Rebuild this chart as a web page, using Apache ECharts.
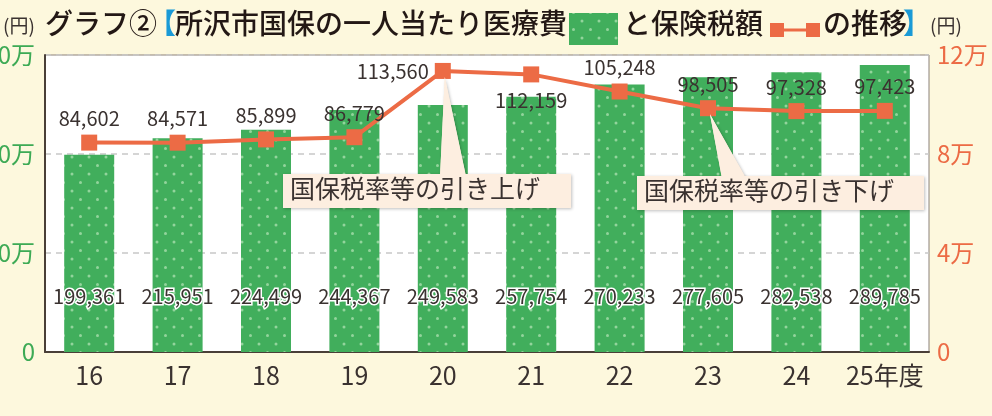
<!DOCTYPE html>
<html lang="ja">
<head>
    <meta charset="UTF-8">
    <title>所沢市国保の一人当たり医療費と保険税額の推移</title>
    <script src="https://cdn.jsdelivr.net/npm/echarts@6/dist/echarts.min.js"></script>
    <style>
        html, body { margin: 0; padding: 0; background: #fdf8dd; }
        #chart { width: 992px; height: 416px; }
    </style>
</head>
<body>
<div id="chart"></div>
<script type="text/javascript">
    // 年度
    var years = ['16', '17', '18', '19', '20', '21', '22', '23', '24', '25年度'];
    // 一人当たり医療費（円）
    var iryouhi = [199361, 215951, 224499, 244367, 249583, 257754, 270233, 277605, 282538, 289785];
    // 一人当たり保険税額（円）
    var zeigaku = [84602, 84571, 85899, 86779, 113560, 112159, 105248, 98505, 97328, 97423];
    // 目盛
    var leftTicks = [0, 100000, 200000, 300000];
    var rightTicks = [0, 40000, 80000, 120000];

    var FONT = '"Noto Sans CJK JP", "Noto Sans", sans-serif';
    var TXT = '#3a3230';
    var GREEN = '#41ae5c';
    var ORANGE = '#ec6b45';

    // 水玉模様
    var dots = document.createElement('canvas');
    dots.width = 17;
    dots.height = 17;
    var ctx = dots.getContext('2d');
    ctx.fillStyle = GREEN;
    ctx.fillRect(0, 0, 17, 17);
    ctx.fillStyle = '#93d49c';
    [[4, 4], [12.5, 12.5]].forEach(function (p) {
        ctx.beginPath();
        ctx.arc(p[0], p[1], 1.5, 0, Math.PI * 2);
        ctx.fill();
    });
    var dotFill = {image: dots, repeat: 'repeat'};

    function man(v) {
        return v === 0 ? '0' : (v / 10000) + '万';
    }
    function comma(v) {
        return v.toLocaleString('en-US');
    }

    // 折れ線ラベルの位置
    var linePos = ['top', 'top', 'top', 'top', 'left', 'bottom', 'top', 'top', 'top', 'top'];
    var lineData = zeigaku.map(function (v, i) {
        return {value: v, label: {position: linePos[i], distance: linePos[i] === 'bottom' ? 8 : 6}};
    });

    var chart = echarts.init(document.getElementById('chart'));
    var titleY = 30;
    var option = {
        backgroundColor: '#fdf8dd',
        animation: false,
        textStyle: {fontFamily: FONT},
        grid: {
            left: 45, right: 63, top: 55, bottom: 64,
            containLabel: false, outerBoundsMode: 'none',
            show: true, backgroundColor: '#fff', borderColor: '#8a8078', borderWidth: 1
        },
        xAxis: {
            type: 'category',
            data: years,
            axisLine: {lineStyle: {color: '#4a3f38', width: 2}},
            axisTick: {show: false},
            axisLabel: {fontSize: 25, color: TXT, margin: 11, interval: 0, fontFamily: FONT}
        },
        yAxis: [{
            type: 'value',
            min: leftTicks[0], max: leftTicks[3], interval: leftTicks[1],
            axisLine: {show: true, lineStyle: {color: '#4a3f38', width: 2}},
            axisTick: {show: false},
            axisLabel: {fontSize: 24, color: '#3daa55', margin: 10, formatter: man, fontFamily: FONT},
            splitLine: {lineStyle: {color: '#c8c8c8', type: [6, 5], width: 1.5}}
        }, {
            type: 'value',
            min: rightTicks[0], max: rightTicks[3], interval: rightTicks[1],
            axisLine: {show: false},
            axisTick: {show: false},
            axisLabel: {fontSize: 24, color: ORANGE, margin: 8, formatter: man, fontFamily: FONT},
            splitLine: {show: false}
        }],
        series: [{
            name: '一人当たり医療費',
            type: 'bar',
            data: iryouhi,
            barWidth: 50,
            itemStyle: {color: dotFill},
            label: {
                show: true, position: 'insideBottom', distance: 46,
                formatter: function (p) { return comma(p.value); },
                fontSize: 20, color: TXT, textBorderColor: '#fff', textBorderWidth: 3,
                fontFamily: FONT
            },
            z: 2
        }, {
            name: '保険税額',
            type: 'line',
            yAxisIndex: 1,
            data: lineData,
            symbol: 'rect',
            symbolSize: 16,
            lineStyle: {color: ORANGE, width: 4},
            itemStyle: {color: ORANGE},
            label: {
                show: true,
                formatter: function (p) { return comma(p.value); },
                fontSize: 20, color: TXT, fontFamily: FONT
            },
            z: 3
        }]
    };
    chart.setOption(option);

    // タイトルと吹き出し
    function txt(x, s, size, color, weight) {
        return {
            type: 'text', left: x, top: titleY - size * 0.72,
            style: {text: s, fontSize: size, fill: color || '#231815', fontWeight: weight || 'normal', fontFamily: FONT}
        };
    }
    var graphics = [
        txt(3, '(円)', 19, TXT),
        txt(45, 'グラフ②', 28, '#231815', 500),
        txt(148, '【', 28, '#1a9ad6', 'bold'),
        txt(175, '所沢市国保の一人当たり医療費', 28, '#231815', 500),
        {type: 'rect', shape: {x: 569, y: 13, width: 49, height: 32}, style: {fill: dotFill}},
        txt(623, 'と保険税額', 28, '#231815', 500),
        {type: 'rect', shape: {x: 770, y: 23, width: 14, height: 14}, style: {fill: ORANGE}},
        {type: 'rect', shape: {x: 784, y: 28.5, width: 22, height: 3}, style: {fill: ORANGE}},
        {type: 'rect', shape: {x: 806, y: 23, width: 14, height: 14}, style: {fill: ORANGE}},
        txt(823, 'の推移', 28, '#231815', 500),
        txt(903, '】', 28, '#1a9ad6', 'bold'),
        txt(930, '(円)', 19, TXT)
    ];

    function callout(idx, box, base, label) {
        var pt = chart.convertToPixel({seriesIndex: 1}, [idx, zeigaku[idx]]);
        return [{
            type: 'polygon', z: 10,
            shape: {points: [[base[0], box[1] + 2], [base[1], box[1] + 2], [pt[0] + 2, pt[1] + 6]]},
            style: {fill: '#fdeee0', shadowColor: 'rgba(0,0,0,0.25)', shadowBlur: 3, shadowOffsetX: 1, shadowOffsetY: 1}
        }, {
            type: 'rect', z: 10,
            shape: {x: box[0], y: box[1], width: box[2], height: box[3]},
            style: {fill: '#fdeee0', shadowColor: 'rgba(0,0,0,0.25)', shadowBlur: 3, shadowOffsetX: 1, shadowOffsetY: 1}
        }, {
            type: 'polygon', z: 11,
            shape: {points: [[base[0], box[1] + 3], [base[1], box[1] + 3], [pt[0] + 2, pt[1] + 6]]},
            style: {fill: '#fdeee0'}
        }, {
            type: 'text', z: 12,
            left: box[0] + 7, top: box[1] + 2,
            style: {text: label, fontSize: 25, fill: TXT, fontFamily: FONT}
        }];
    }
    graphics = graphics
        .concat(callout(4, [283, 174, 288, 34], [440, 466], '国保税率等の引き上げ'))
        .concat(callout(7, [637, 176, 287, 34], [722, 746], '国保税率等の引き下げ'));

    chart.setOption({graphic: graphics});
</script>
</body>
</html>
